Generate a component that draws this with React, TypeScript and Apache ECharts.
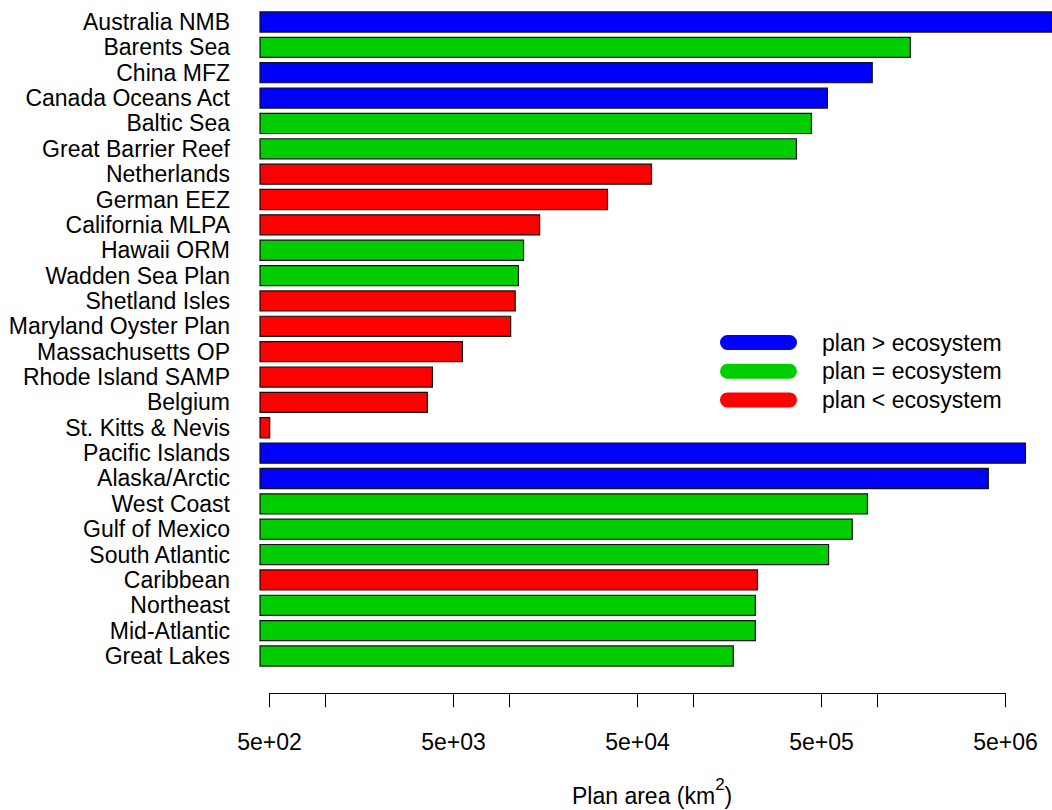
import React, { useEffect, useRef } from "react";
import * as echarts from "echarts";

const categories = [
  "Australia NMB", "Barents Sea", "China MFZ", "Canada Oceans Act", "Baltic Sea",
  "Great Barrier Reef", "Netherlands", "German EEZ", "California MLPA", "Hawaii ORM",
  "Wadden Sea Plan", "Shetland Isles", "Maryland Oyster Plan", "Massachusetts OP",
  "Rhode Island SAMP", "Belgium", "St. Kitts & Nevis", "Pacific Islands", "Alaska/Arctic",
  "West Coast", "Gulf of Mexico", "South Atlantic", "Caribbean", "Northeast",
  "Mid-Atlantic", "Great Lakes",
];

const planAreaKm2 = [
  9.5e6, 1.53e6, 9.5e5, 5.42e5, 4.44e5,
  3.68e5, 6.0e4, 3.46e4, 1.48e4, 1.21e4,
  1.135e4, 1.09e4, 1.03e4, 5.63e3,
  3.87e3, 3.63e3, 505, 6.46e6, 4.06e6,
  8.95e5, 7.4e5, 5.5e5, 2.26e5, 2.2e5,
  2.2e5, 1.67e5,
];

const planVsEcosystem = [
  ">", "=", ">", ">", "=",
  "=", "<", "<", "<", "=",
  "=", "<", "<", "<",
  "<", "<", "<", ">", ">",
  "=", "=", "=", "<", "=",
  "=", "=",
];

const groupKeys = [">", "=", "<"];
const groupNames = ["plan > ecosystem", "plan = ecosystem", "plan < ecosystem"];
const groupColors = ["#0000FF", "#00CD00", "#FF0000"];

const tickValues = [500, 1000, 5000, 10000, 50000, 100000, 500000, 1000000, 5000000];
const labelValues = [500, 5000, 50000, 500000, 5000000];
const tickLabels = ["5e+02", "5e+03", "5e+04", "5e+05", "5e+06"];

const FONT = "'Liberation Sans', Arial, Helvetica, sans-serif";

export default function App() {
  const ref = useRef<HTMLDivElement>(null);

  useEffect(() => {
    if (!ref.current) return;
    const chart = echarts.init(ref.current, null, { renderer: "svg" });

    const series = groupKeys.map((key, gi) => ({
      name: groupNames[gi],
      type: "bar",
      xAxisIndex: 0,
      yAxisIndex: 0,
      barGap: "-100%",
      barCategoryGap: "16%",
      itemStyle: { color: groupColors[gi], borderColor: "#111", borderWidth: 1.2 },
      emphasis: { disabled: true },
      data: planAreaKm2.map((v, i) => (planVsEcosystem[i] === key ? v : null)),
    }));

    const stadium =
      "path://M7.5,0L69.5,0A7.5,7.5,0,0,1,69.5,15L7.5,15A7.5,7.5,0,0,1,7.5,0ZM97,0L97,15";

    const option: any = {
      animation: false,
      textStyle: { fontFamily: FONT },
      title: {
        text: "Plan area (km{sup|2})",
        left: 572,
        top: 776,
        padding: 0,
        textStyle: {
          fontFamily: FONT,
          fontSize: 23,
          fontWeight: "normal",
          color: "#000",
          rich: {
            sup: {
              fontFamily: FONT,
              fontSize: 17,
              fontWeight: "normal",
              color: "#000",
              padding: [0, 0, 22, 0],
            },
          },
        },
      },
      legend: {
        orient: "vertical",
        left: 720,
        top: 331,
        padding: 0,
        itemWidth: 97,
        itemHeight: 15,
        itemGap: 5.7,
        selectedMode: false,
        icon: stadium,
        itemStyle: { borderWidth: 0, borderColor: "transparent" },
        textStyle: { fontFamily: FONT, fontSize: 23, color: "#000", lineHeight: 23 },
        data: groupNames.map((n, i) => ({ name: n, icon: stadium, itemStyle: { color: groupColors[i], borderWidth: 0 } })),
      },
      grid: [
        { left: 260, right: 0, top: 9.3, height: 659.4 },
        { left: 269.5, right: 46.5, top: 680, height: 13.3 },
      ],
      xAxis: [
        {
          type: "log",
          gridIndex: 0,
          min: 444,
          max: 8.94e6,
          show: false,
        },
        {
          type: "log",
          gridIndex: 1,
          min: 500,
          max: 5e6,
          position: "bottom",
          axisLine: { show: true, onZero: false, lineStyle: { color: "#000", width: 1 } },
          axisTick: {
            show: true,
            customValues: tickValues,
            length: 14,
            lineStyle: { color: "#000", width: 1 },
          },
          axisLabel: {
            show: true,
            customValues: labelValues,
            margin: 37,
            fontSize: 23,
            color: "#000",
            fontFamily: FONT,
            formatter: (v: number) => {
              let best = 0;
              let bd = Infinity;
              labelValues.forEach((lv, i) => {
                const d = Math.abs(Math.log10(lv) - Math.log10(v));
                if (d < bd) { bd = d; best = i; }
              });
              return tickLabels[best];
            },
          },
          splitLine: { show: false },
          minorTick: { show: false },
        },
      ],
      yAxis: [
        {
          type: "category",
          gridIndex: 0,
          inverse: true,
          data: categories,
          axisLine: { show: false },
          axisTick: { show: false },
          axisLabel: { interval: 0, fontSize: 23, color: "#000", margin: 30, fontFamily: FONT },
          splitLine: { show: false },
        },
        {
          type: "category",
          gridIndex: 1,
          data: [""],
          show: false,
        },
      ],
      series,
    };

    chart.setOption(option);
    return () => chart.dispose();
  }, []);

  return (
    <div
      ref={ref}
      style={{ position: "fixed", left: 0, top: 0, width: 1052, height: 810, background: "#fff" }}
    />
  );
}
